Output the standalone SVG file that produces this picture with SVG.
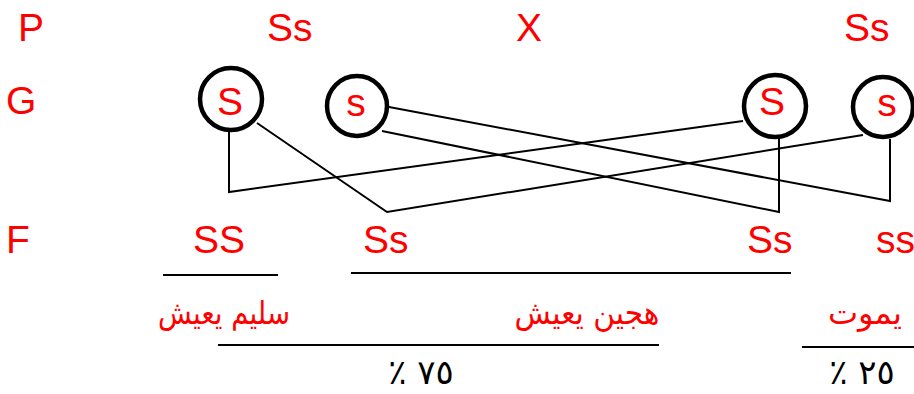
<svg xmlns="http://www.w3.org/2000/svg" width="914" height="394" viewBox="0 0 914 394">
<style>
.lbl{font-family:"Liberation Sans",Arial,sans-serif;font-size:39px;fill:#ff0000}
.ar{font-family:"DejaVu Sans",sans-serif;font-size:32px;fill:#ff0000;direction:rtl}
.pc{font-family:"DejaVu Sans",sans-serif;font-size:34px;fill:#000;direction:rtl}
.gam{fill:none;stroke:#000;stroke-width:4.5}
.con{fill:none;stroke:#000;stroke-width:2}
.ul{stroke:#000;stroke-width:2}
</style>
<rect width="914" height="394" fill="#fff"/>
<g id="labels">
<text class="lbl" x="18" y="41">P</text>
<text class="lbl" x="267" y="41">Ss</text>
<text class="lbl" x="516" y="41">X</text>
<text class="lbl" x="844" y="41">Ss</text>
<text class="lbl" x="6" y="114">G</text>
<text class="lbl" x="6" y="253">F</text>
</g>
<g id="gamete-S1"><circle class="gam" cx="231" cy="99" r="31"/><text class="lbl" x="230" y="115" text-anchor="middle">S</text></g>
<g id="gamete-s1"><circle class="gam" cx="357" cy="106" r="30"/><text class="lbl" x="356" y="116" text-anchor="middle">s</text></g>
<g id="gamete-S2"><circle class="gam" cx="775" cy="106" r="31"/><text class="lbl" x="772" y="115" text-anchor="middle">S</text></g>
<g id="gamete-s2"><circle class="gam" cx="883" cy="107" r="30"/><text class="lbl" x="887" y="116" text-anchor="middle">s</text></g>
<g id="connectors">
<polyline class="con" points="229,131 229,192 743,121"/>
<polyline class="con" points="257,123 387,212 863,135"/>
<polyline class="con" points="389,107 890,201 890,139"/>
<polyline class="con" points="382,131 779,212 779,138"/>
</g>
<g id="offspring-SS"><text class="lbl" x="193" y="253">SS</text></g>
<g id="offspring-Ss1"><text class="lbl" x="363" y="253">Ss</text></g>
<g id="offspring-Ss2"><text class="lbl" x="747" y="253">Ss</text></g>
<g id="offspring-ss"><text class="lbl" x="876" y="253">ss</text></g>
<g id="summary">
<line class="ul" x1="163" y1="275" x2="278" y2="275"/>
<line class="ul" x1="351" y1="273" x2="791" y2="273"/>
<text class="ar" x="224" y="324" text-anchor="middle" textLength="132" lengthAdjust="spacingAndGlyphs">سليم يعيش</text>
<text class="ar" x="587" y="324" text-anchor="middle" textLength="145" lengthAdjust="spacingAndGlyphs">هجين يعيش</text>
<text class="ar" x="865" y="324" text-anchor="middle" textLength="74" lengthAdjust="spacingAndGlyphs">يموت</text>
<line class="ul" x1="218" y1="345" x2="659" y2="345"/>
<line class="ul" x1="802" y1="347" x2="914" y2="347"/>
<text class="pc" x="421" y="384" text-anchor="middle">٧٥ ٪</text>
<text class="pc" x="862" y="384" text-anchor="middle">٢٥ ٪</text>
</g>
</svg>
